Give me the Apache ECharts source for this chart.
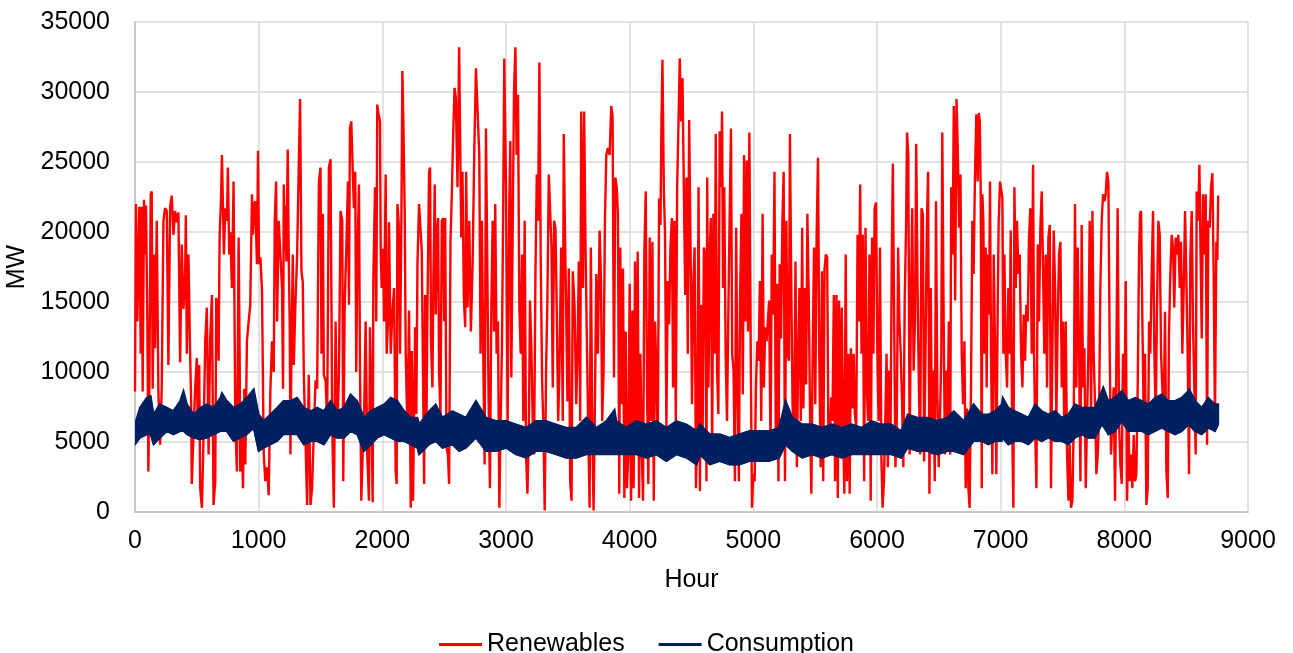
<!DOCTYPE html>
<html>
<head>
<meta charset="utf-8">
<script src="https://cdn.jsdelivr.net/npm/echarts@6/dist/echarts.min.js"></script>
<style>html,body{margin:0;padding:0;background:#fff}#c{width:1293px;height:653px}</style>
</head>
<body>
<div id="c"></div>
<script>
// Axis ticks
var xTicks = [0, 1000, 2000, 3000, 4000, 5000, 6000, 7000, 8000, 9000];
var yTicks = [0, 5000, 10000, 15000, 20000, 25000, 30000, 35000];

// Renewables: [hour, MW]
var renewables = [
[0,8600],[8,22000],[19,13600],[35,21800],[46,11300],[54,21800],[62,8600],[73,22300],[81,18400],[89,21900],[100,13600],[108,2900],[116,8800],[127,22700],[135,22900],[143,8800],[154,18400],[162,11700],[176,20800],[189,8600],[203,4800],[216,8800],[230,20800],[243,21700],[257,21500],[270,10500],[284,21800],[297,22600],[311,19800],[324,21500],[338,20700],[351,21400],[365,10700],[378,19100],[392,14500],[405,16700],[411,21200],[419,11300],[432,18400],[446,11300],[454,7700],[459,2000],[473,2000],[486,8800],[500,11000],[508,5200],[519,10500],[527,1700],[541,300],[554,5300],[568,12200],[581,14600],[595,4100],[608,12400],[622,15500],[635,500],[649,2200],[657,15300],[668,14600],[676,10800],[684,19600],[695,22200],[703,25500],[711,25600],[719,18400],[730,21700],[743,20800],[751,24600],[762,18400],[770,20000],[784,16000],[797,23600],[811,6500],[824,2900],[830,10000],[838,19600],[846,11300],[851,2900],[865,5300],[873,1700],[884,8800],[892,3400],[905,12200],[919,13600],[932,14800],[946,22700],[954,19800],[965,22000],[973,22200],[986,17700],[995,25800],[1003,17700],[1014,18200],[1027,15800],[1041,4100],[1054,2200],[1068,3200],[1081,1200],[1095,8800],[1108,12200],[1122,10000],[1130,20800],[1141,23600],[1149,13600],[1162,20800],[1176,20800],[1189,16000],[1197,8800],[1203,23400],[1211,18600],[1216,21900],[1224,17900],[1235,25900],[1243,18400],[1251,13600],[1257,4100],[1265,11300],[1276,18400],[1284,10500],[1297,14800],[1311,18400],[1324,24600],[1335,29500],[1346,17200],[1357,16400],[1365,9800],[1378,5300],[1392,500],[1405,9800],[1419,500],[1432,1700],[1446,5800],[1460,9400],[1473,8800],[1487,23600],[1500,24600],[1508,11300],[1519,21300],[1527,9800],[1541,9400],[1554,6500],[1568,24600],[1581,25200],[1595,6000],[1608,300],[1622,13600],[1635,5300],[1649,9800],[1662,21500],[1676,20800],[1684,2200],[1695,14600],[1711,19600],[1722,23600],[1730,14800],[1738,27400],[1749,27900],[1759,27900],[1770,21700],[1781,24300],[1789,10000],[1797,17200],[1811,23400],[1819,10500],[1830,800],[1843,4800],[1852,6400],[1865,13600],[1878,4100],[1892,800],[1900,13200],[1911,7700],[1922,700],[1927,16500],[1941,23200],[1951,13600],[1959,29100],[1970,28400],[1981,27900],[1987,18400],[1995,16000],[2006,18800],[2014,13600],[2027,24100],[2035,11300],[2046,13600],[2054,20700],[2068,11300],[2081,14200],[2095,16000],[2108,2900],[2116,2000],[2122,22000],[2132,20700],[2143,11300],[2154,20700],[2162,31500],[2170,27900],[2181,21300],[2189,11300],[2203,5800],
[2216,14400],[2230,300],[2238,11500],[2248,800],[2265,13200],[2275,7000],[2284,17700],[2297,22000],[2305,22100],[2319,18600],[2330,8900],[2338,2000],[2346,15500],[2357,6500],[2365,14600],[2378,24300],[2386,24600],[2394,12200],[2405,8900],[2413,16700],[2424,23400],[2432,14100],[2443,20300],[2451,21000],[2459,9800],[2470,7000],[2481,20800],[2492,21000],[2500,13600],[2508,21000],[2519,4600],[2530,4100],[2540,2000],[2551,19300],[2562,22700],[2573,27000],[2584,30300],[2594,29600],[2608,23200],[2621,33200],[2630,26000],[2638,19600],[2648,24300],[2659,15300],[2670,13200],[2678,24300],[2689,14600],[2703,20800],[2716,12900],[2730,17700],[2743,25500],[2757,31700],[2770,31800],[2784,25500],[2794,11300],[2805,20800],[2816,11300],[2827,3400],[2838,27400],[2849,17400],[2859,8200],[2870,1700],[2881,14400],[2892,20800],[2903,12900],[2913,22000],[2924,11300],[2935,13600],[2946,300],[2957,6500],[2967,11700],[2978,22200],[2986,32400],[3000,23200],[3013,6500],[3027,22200],[3035,26500],[3043,9600],[3054,20100],[3065,30100],[3076,33200],[3086,25500],[3097,29800],[3108,14600],[3119,11300],[3130,18400],[3140,6500],[3151,20800],[3162,4100],[3173,1300],[3184,5300],[3194,15100],[3205,11700],[3216,6500],[3227,4100],[3238,17000],[3249,24100],[3259,20800],[3270,32100],[3281,17700],[3292,9400],[3303,5800],[3313,100],[3324,10100],[3335,15300],[3346,24100],[3357,24100],[3368,18900],[3378,8900],[3389,20800],[3400,20300],[3411,14100],[3422,6500],[3432,10100],[3446,18900],[3459,6500],[3467,27000],[3478,19300],[3486,14800],[3497,7900],[3508,17400],[3519,2200],[3530,800],[3540,17200],[3554,14800],[3568,7700],[3578,11300],[3589,17900],[3600,6500],[3608,28600],[3622,16000],[3632,28600],[3643,18900],[3654,12200],[3665,6000],[3676,300],[3686,18900],[3697,6500],[3708,100],[3719,7700],[3730,17000],[3743,11300],[3757,20100],[3768,16500],[3778,6500],[3789,10100],[3800,20800],[3811,25500],[3824,26000],[3838,25500],[3851,29000],[3862,28200],[3873,9600],[3884,23900],[3895,23200],[3905,21300],[3916,1300],[3924,18900],[3935,7700],[3946,17400],[3957,1000],[3968,12900],[3978,1700],[3989,4100],[4000,16300],[4011,800],[4022,14400],[4032,1700],[4043,17900],[4054,6500],[4065,18600],[4076,1000],[4087,11300],[4097,4800],[4108,800],[4119,18600],[4130,22900],[4141,8200],[4151,2000],[4162,19600],[4173,6500],[4184,19300],[4195,800],[4205,13600],[4216,10100],[4227,4100],[4238,22400],[4249,20500],[4257,27700],[4265,32300],[4276,23200],[4286,19800],[4297,6000],[4308,16500],[4319,13400],[4330,18900],[4341,21000],[4351,8900],[4362,20800],[4373,6500],[4384,23200],[4395,27900],[4405,32400],[4416,27900],[4427,31000],[4438,23200],[4449,15500],[4459,23900],[4470,11300],[4481,28000],
[4496,16000],[4504,7700],[4515,16300],[4525,18900],[4536,1700],[4547,6500],[4557,23200],[4568,1500],[4579,14800],[4589,4100],[4600,18900],[4611,18400],[4621,2200],[4627,23900],[4637,8900],[4648,18400],[4656,21000],[4667,4100],[4677,21300],[4688,11300],[4696,27000],[4707,10100],[4717,7000],[4728,27200],[4739,23200],[4747,28600],[4755,16000],[4765,23200],[4776,11300],[4787,6500],[4797,13600],[4808,20800],[4819,27400],[4829,11300],[4840,10100],[4851,2200],[4861,20300],[4872,8900],[4883,2200],[4893,15500],[4904,21300],[4915,8400],[4925,25500],[4936,13600],[4947,25100],[4957,12900],[4968,27100],[4979,11300],[4989,300],[5000,2700],[5011,2200],[5021,8900],[5032,12200],[5043,10800],[5053,16500],[5064,6500],[5075,21300],[5085,8900],[5096,13200],[5107,12200],[5117,13600],[5128,15100],[5139,4100],[5149,18400],[5160,14100],[5171,24300],[5181,5800],[5192,16300],[5203,2200],[5213,17700],[5224,12400],[5235,20800],[5245,24300],[5256,2200],[5267,20800],[5277,11300],[5288,10800],[5296,27000],[5307,16000],[5317,7700],[5328,5100],[5341,17900],[5352,3200],[5363,11300],[5373,16000],[5384,6500],[5395,20300],[5405,7400],[5416,16000],[5427,9100],[5437,21300],[5448,15500],[5459,6500],[5469,1300],[5480,11300],[5491,18900],[5501,7700],[5512,19800],[5523,25300],[5533,11300],[5544,3200],[5555,17200],[5565,2200],[5576,17400],[5587,18400],[5597,18200],[5608,4100],[5619,5100],[5629,8200],[5640,6500],[5651,15500],[5661,2200],[5672,15500],[5683,1000],[5693,15100],[5704,4100],[5715,14600],[5725,6500],[5736,1300],[5747,18400],[5757,2200],[5768,11300],[5779,1300],[5789,11700],[5800,7400],[5811,11300],[5821,7000],[5832,6000],[5843,19800],[5853,13600],[5864,23400],[5875,11300],[5885,19800],[5896,2200],[5907,20300],[5917,8900],[5928,6500],[5939,18400],[5949,800],[5960,19600],[5971,11300],[5981,21700],[5992,22100],[6003,11300],[6013,6500],[6024,18900],[6035,4100],[6045,300],[6056,2200],[6067,6500],[6077,11300],[6088,3200],[6099,10100],[6109,5100],[6120,18400],[6128,24900],[6139,13600],[6149,3200],[6160,6500],[6171,18900],[6181,13600],[6192,11300],[6203,7700],[6213,3200],[6224,15100],[6235,20300],[6243,27100],[6253,25500],[6264,4100],[6275,15500],[6285,21700],[6296,10100],[6307,13600],[6317,26300],[6328,16000],[6339,8900],[6349,4100],[6360,21700],[6371,21300],[6381,3600],[6392,11300],[6403,20300],[6413,24300],[6424,1300],[6435,16000],[6445,4100],[6456,10100],[6467,2200],[6477,22200],[6488,8400],[6499,3200],[6509,6500],[6520,11300],[6528,27100],[6539,13600],[6549,4100],[6560,10100],[6571,6500],[6581,13600],[6592,4100],[6600,23200],[6611,18400],[6621,29000],[6632,15100],[6643,29500],[6653,26000],[6664,20300],[6675,24100],[6685,11300],[6696,7700],[6707,12200],[6717,1700],[6728,7400],[6739,1700],[6749,300],[6760,8900],[6771,20800],[6781,17000],[6792,23900],[6803,28400],
[6814,23600],[6823,28500],[6831,27900],[6839,22700],[6847,1700],[6852,22700],[6860,20800],[6868,11300],[6879,18900],[6887,8900],[6895,18400],[6906,14100],[6914,23600],[6922,11300],[6933,2700],[6944,18400],[6955,11300],[6965,2700],[6976,14600],[6984,20800],[6995,23600],[7003,23600],[7014,22400],[7022,11300],[7030,18400],[7041,11300],[7052,8900],[7062,16000],[7073,11300],[7081,20100],[7092,6500],[7103,300],[7111,23200],[7122,16000],[7132,20800],[7143,17000],[7154,18400],[7165,11300],[7176,8900],[7186,14100],[7197,10800],[7208,14800],[7219,13600],[7229,19600],[7240,21700],[7251,11300],[7262,24800],[7270,11300],[7278,6500],[7289,1700],[7300,19100],[7310,13600],[7321,20300],[7332,22900],[7343,17200],[7353,11300],[7364,18400],[7375,8900],[7386,19600],[7397,20500],[7407,1700],[7418,11300],[7429,20100],[7440,16000],[7450,6500],[7461,13600],[7472,18400],[7483,19300],[7494,8900],[7504,13600],[7515,5300],[7526,13600],[7537,4100],[7548,800],[7558,4800],[7569,300],[7580,800],[7591,6500],[7601,22000],[7612,8900],[7623,18900],[7634,11300],[7645,2200],[7655,20500],[7666,8900],[7677,11700],[7688,1700],[7698,6500],[7709,11300],[7720,20800],[7731,6500],[7742,21500],[7752,11300],[7763,7700],[7774,2700],[7785,4100],[7795,6500],[7806,16000],[7817,20800],[7828,22700],[7839,22200],[7849,22700],[7860,24300],[7871,23600],[7882,11300],[7892,4100],[7903,6500],[7914,8900],[7925,800],[7936,11300],[7946,21700],[7957,6500],[7968,3400],[7979,2000],[7989,11300],[8000,6500],[8011,16500],[8022,800],[8033,6500],[8043,2200],[8054,4100],[8065,1700],[8076,5500],[8087,2200],[8097,2700],[8108,8900],[8119,18400],[8127,21300],[8135,21500],[8146,13600],[8157,6500],[8167,11300],[8178,500],[8189,1700],[8200,13600],[8210,11300],[8221,17000],[8232,21500],[8243,11300],[8254,6500],[8264,14600],[8275,20800],[8286,19800],[8297,11300],[8307,8900],[8318,6500],[8329,14300],[8340,2900],[8351,1000],[8361,12700],[8372,17000],[8383,19800],[8394,18900],[8404,14600],[8415,19600],[8426,18400],[8437,19800],[8448,16000],[8458,19300],[8469,11300],[8480,16000],[8491,21500],[8502,16500],[8512,11300],[8523,2700],[8534,18400],[8545,21500],[8555,13600],[8566,8900],[8577,4100],[8585,22900],[8596,20800],[8607,24800],[8615,24800],[8626,12400],[8636,22700],[8647,18400],[8658,22700],[8669,4800],[8679,20800],[8690,20300],[8701,23200],[8712,24200],[8722,17200],[8733,6500],[8744,19300],[8752,18000],[8759,22600]
];

// Consumption: hourly band, upper and lower envelope
var consHours = [0,40,95,127,150,200,257,310,365,392,420,473,527,581,635,690,703,743,797,851,905,960,1000,1040,1095,1150,1200,1257,1311,1365,1420,1473,1527,1581,1635,1690,1743,1797,1852,1906,1960,2014,2068,2122,2176,2230,2284,2297,2378,2432,2486,2567,2621,2676,2757,2838,2919,3000,3081,3162,3243,3324,3405,3486,3568,3649,3730,3811,3878,3892,3973,4054,4135,4216,4297,4378,4459,4541,4568,4648,4728,4808,4888,4968,5048,5128,5208,5261,5315,5395,5475,5555,5635,5715,5795,5875,5955,6035,6115,6195,6248,6328,6408,6488,6568,6621,6701,6781,6847,6901,6955,7008,7017,7062,7116,7170,7224,7278,7332,7386,7440,7494,7548,7601,7655,7709,7763,7817,7830,7871,7925,7979,8033,8087,8141,8194,8248,8302,8356,8410,8464,8518,8526,8572,8626,8679,8733,8759];
var consUpper = [6260,7450,8160,8280,6970,7690,7450,7210,7930,8640,7690,6970,7450,7690,7450,8160,8500,7930,7450,7690,8160,8760,6970,6500,6970,7450,7930,7930,8160,7450,7210,7450,7210,7930,7210,7450,8400,7930,6740,7210,7450,7690,8160,7930,7210,6740,6740,6260,7210,7690,6740,7210,6970,6740,7930,6740,6500,6500,6260,6020,6500,6500,6260,6020,6020,6740,6020,6500,7300,6500,6020,6500,6260,6500,6020,6500,6260,5780,6260,5550,5550,5310,5550,5780,5780,5780,6020,7930,6740,6260,6260,6020,6260,6020,6260,6020,6500,6260,6260,5780,6970,6740,6740,6500,6740,7210,6500,7690,6970,6970,7210,7690,8160,7450,7210,6970,6740,7690,7210,6970,7210,6740,6970,7690,7450,7450,7450,8640,8900,7930,8160,8640,7930,8160,7930,7690,8160,8400,7930,7930,8160,8640,8760,7930,7450,8160,7690,7690];
var consLower = [4830,5310,5550,5550,4830,5310,5780,5550,5780,5800,5550,5310,5190,5310,5550,5780,5780,5780,5070,5310,5550,6020,4360,4590,4830,5070,5550,5550,5550,4830,5070,5070,4830,5550,5310,5310,5780,5550,4360,4830,5310,5550,5310,5070,5070,4830,4590,4120,4830,5070,4590,4830,4360,4590,5310,4360,4360,4590,4120,3880,4360,4360,4120,3880,3880,4120,4120,4120,4120,4120,4120,4120,3880,4120,3640,4120,3880,3400,4120,3400,3640,3400,3400,3640,3640,3640,3880,4830,4360,3880,4120,3880,4120,3880,4120,4120,4120,4120,4120,3880,4590,4360,4360,4120,4360,4360,4120,5070,5070,4830,5070,5070,5300,4830,5070,5070,4830,5310,5070,5310,5070,5070,4830,5310,5550,5310,5310,6260,6260,5550,5780,6500,5780,5780,5780,5550,5780,6020,5780,5550,5780,6260,6260,5780,5550,6020,5780,6260];

var consLowerLine = consHours.map(function (h, i) { return [h, consLower[i]]; });

var font = 'Liberation Sans, Arial, sans-serif';
var chart = echarts.init(document.getElementById('c'), null, {renderer: 'canvas'});
chart.setOption({
  animation: false,
  backgroundColor: '#ffffff',
  textStyle: {fontFamily: font},
  grid: {left: 135, right: 45, top: 22, bottom: 141, containLabel: false, outerBoundsMode: 'none'},
  legend: {
    data: [
      {name: 'Renewables', icon: 'rect', itemStyle: {color: '#ff0000'}},
      {name: 'Consumption', icon: 'rect', itemStyle: {color: '#002060'}}
    ],
    top: 627, left: 'center',
    itemWidth: 43, itemHeight: 3, itemGap: 34,
    textStyle: {fontFamily: font, fontSize: 25, color: '#000'}
  },
  xAxis: {
    type: 'value', min: xTicks[0], max: xTicks[xTicks.length - 1], interval: 1000,
    name: 'Hour', nameLocation: 'middle', nameGap: 56,
    nameTextStyle: {fontFamily: font, fontSize: 25, color: '#000'},
    axisLine: {show: true, lineStyle: {color: '#c8c8c8', width: 2}},
    axisTick: {show: false},
    axisLabel: {fontFamily: font, fontSize: 25, color: '#000', margin: 17, formatter: function (v) { return String(v); }},
    splitLine: {show: true, lineStyle: {color: '#d9d9d9', width: 1.5}}
  },
  yAxis: {
    type: 'value', min: yTicks[0], max: yTicks[yTicks.length - 1], interval: 5000,
    name: 'MW', nameLocation: 'middle', nameGap: 90, nameRotate: 90,
    nameTextStyle: {fontFamily: font, fontSize: 25, color: '#000'},
    axisLine: {show: true, lineStyle: {color: '#c8c8c8', width: 2}},
    axisTick: {show: false},
    axisLabel: {fontFamily: font, fontSize: 25, color: '#000', margin: 25, formatter: function (v) { return String(v); }},
    splitLine: {show: true, lineStyle: {color: '#d9d9d9', width: 1.5}}
  },
  series: [
    {
      name: 'Renewables', type: 'line', data: renewables,
      symbol: 'none', showSymbol: false, sampling: null,
      lineStyle: {color: '#ff0000', width: 2.4}, itemStyle: {color: '#ff0000'},
      z: 2
    },
    {
      name: 'Consumption', type: 'line', data: consLowerLine,
      symbol: 'none', showSymbol: false,
      lineStyle: {color: '#002060', width: 1.6}, itemStyle: {color: '#002060'},
      z: 3
    },
    {
      name: 'Consumption', type: 'custom', data: [[consHours[0], consLower[0]]],
      encode: {x: 0, y: 1}, clip: true, z: 3,
      itemStyle: {color: '#002060'},
      renderItem: function (params, api) {
        var pts = [];
        for (var i = 0; i < consHours.length; i++) pts.push(api.coord([consHours[i], consUpper[i]]));
        for (var j = consHours.length - 1; j >= 0; j--) pts.push(api.coord([consHours[j], consLower[j]]));
        return {type: 'polygon', shape: {points: pts}, style: {fill: '#002060', stroke: '#002060', lineWidth: 2, lineJoin: 'miter'}};
      }
    }
  ]
});
</script>
</body>
</html>
